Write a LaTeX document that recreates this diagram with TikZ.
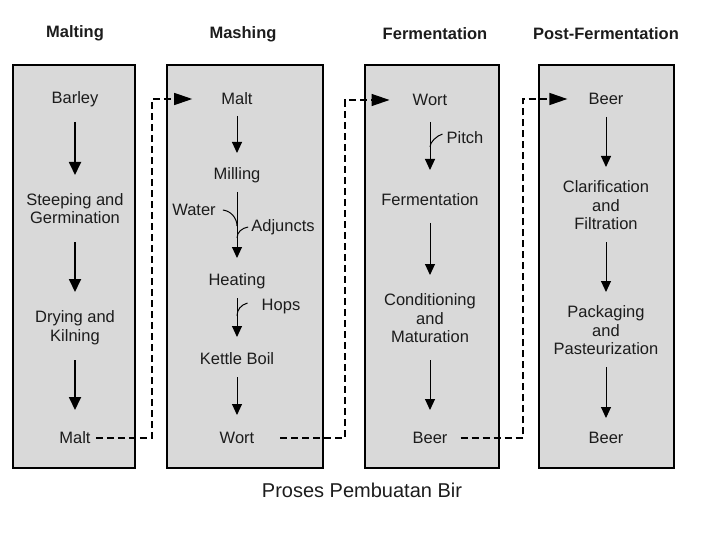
\documentclass[tikz,border=0pt]{standalone}
\usepackage{fontspec}
\setmainfont{Liberation Sans}
\usetikzlibrary{arrows.meta}
\definecolor{boxgray}{RGB}{217,217,217}
\definecolor{txt}{RGB}{28,28,28}
\begin{document}
\begin{tikzpicture}[x=1pt,y=-1pt,
  colbox/.style={draw=black, line width=2pt, fill=boxgray, inner sep=0pt},
  lbl/.style={inner sep=3pt, text=txt, font=\fontsize{16.5}{18.5}\selectfont, align=center},
  hdr/.style={inner sep=3pt, text=txt, font=\fontsize{16.5}{18.5}\selectfont\bfseries},
  flow/.style={line width=1pt, -{Triangle[length=11pt,width=10pt]}},
  flowthick/.style={line width=1.8pt, -{Triangle[length=13pt,width=12pt]}},
  side/.style={line width=1pt},
  dconn/.style={line width=1.3pt, dash pattern=on 7pt off 4pt, -{Triangle[length=18pt,width=12pt]}},
]
\useasboundingbox (0,0) rectangle (720,540);

% headers
\node[hdr] (hMalt) at (75,33) {Malting};
\node[hdr] (hMash) at (243,34) {Mashing};
\node[hdr] (hFerm) at (435,34) {Fermentation};
\node[hdr] (hPost) at (606,34) {Post-Fermentation};

% column boxes
\node[colbox, minimum width=122pt, minimum height=403pt] (bMalt) at (74,266.5) {};
\node[colbox, minimum width=156pt, minimum height=403pt] (bMash) at (245,266.5) {};
\node[colbox, minimum width=134pt, minimum height=403pt] (bFerm) at (432,266.5) {};
\node[colbox, minimum width=135pt, minimum height=403pt] (bPost) at (606.5,266.5) {};

% Malting
\node[lbl] (barley) at (75,99) {Barley};
\node[lbl] (steep) at (75,208.5) {Steeping and\\Germination};
\node[lbl] (drying) at (75,327.5) {Drying and\\Kilning};
\node[lbl] (malt1) at (75,438) {Malt};
\draw[flowthick, shorten <=23pt, shorten >=33.5pt] (barley.center) -- (steep.center);
\draw[flowthick, shorten <=33.5pt, shorten >=35.5pt] (steep.center) -- (drying.center);
\draw[flowthick, shorten <=32.5pt, shorten >=28pt] (drying.center) -- (malt1.center);

% Mashing
\node[lbl] (malt2) at (237,99) {Malt};
\node[lbl] (milling) at (237,175) {Milling};
\node[lbl] (heating) at (237,281) {Heating};
\node[lbl] (kettle) at (237,359) {Kettle Boil};
\node[lbl] (wort1) at (237,438) {Wort};
\node[lbl] (water) at (194,210) {Water};
\node[lbl] (adjuncts) at (283,227) {Adjuncts};
\node[lbl] (hops) at (281,307) {Hops};
\draw[flow, shorten <=17pt, shorten >=22pt] (malt2.center) -- (milling.center);
\draw[flow, shorten <=17pt, shorten >=23pt] (milling.center) -- (heating.center);
\draw[flow, shorten <=17pt, shorten >=22pt] (heating.center) -- (kettle.center);
\draw[flow, shorten <=18pt, shorten >=23pt] (kettle.center) -- (wort1.center);
\coordinate (wj) at (237,226);
\coordinate (aj) at (237,238);
\coordinate (hj) at (237,316);
\draw[side] ([xshift=4pt]water.east) .. controls +(8,1) and +(0,-8) .. (wj);
\draw[side] (adjuncts.west) .. controls +(-6,1) and +(0,-6) .. (aj);
\draw[side] ([xshift=-11pt,yshift=4pt]hops.west) .. controls +(-7,2) and +(0,-6) .. (hj);

% Fermentation
\node[lbl] (wort2) at (430,100) {Wort};
\node[lbl] (ferment) at (430,200) {Fermentation};
\node[lbl] (cond) at (430,318.5) {Conditioning\\and\\Maturation};
\node[lbl] (beer1) at (430,438) {Beer};
\node[lbl] (pitch) at (465,138) {Pitch};
\draw[flow, shorten <=22pt, shorten >=30pt] (wort2.center) -- (ferment.center);
\draw[flow, shorten <=23pt, shorten >=43.5pt] (ferment.center) -- (cond.center);
\draw[flow, shorten <=41.5pt, shorten >=28pt] (cond.center) -- (beer1.center);
\coordinate (pj) at (430,147);
\draw[side] ([xshift=-1pt,yshift=4pt]pitch.west) .. controls +(-6,2) and +(0,-5) .. (pj);

% Post-Fermentation
\node[lbl] (beer2) at (606,99) {Beer};
\node[lbl] (clar) at (606,205.5) {Clarification\\and\\Filtration};
\node[lbl] (pack) at (606,330.5) {Packaging\\and\\Pasteurization};
\node[lbl] (beer3) at (606,438) {Beer};
\draw[flow, shorten <=18pt, shorten >=38.5pt] (beer2.center) -- (clar.center);
\draw[flow, shorten <=36.5pt, shorten >=38.5pt] (clar.center) -- (pack.center);
\draw[flow, shorten <=36.5pt, shorten >=20pt] (pack.center) -- (beer3.center);

% dashed transfers between stages
\coordinate (k1) at (152,99);
\coordinate (k2) at (345,100);
\coordinate (k3) at (523,99);
\draw[dconn, shorten <=2pt, shorten >=26pt] (malt1.east) -| (k1) -- (malt2.west);
\draw[dconn, shorten <=23pt, shorten >=20pt] (wort1.east) -| (k2) -- (wort2.west);
\draw[dconn, shorten <=10pt, shorten >=18pt] (beer1.east) -| (k3) -- (beer2.west);

% caption
\node[inner sep=3pt, text=txt, font=\fontsize{20}{24}\selectfont] (cap) at (362,490) {Proses Pembuatan Bir};
\end{tikzpicture}
\end{document}
